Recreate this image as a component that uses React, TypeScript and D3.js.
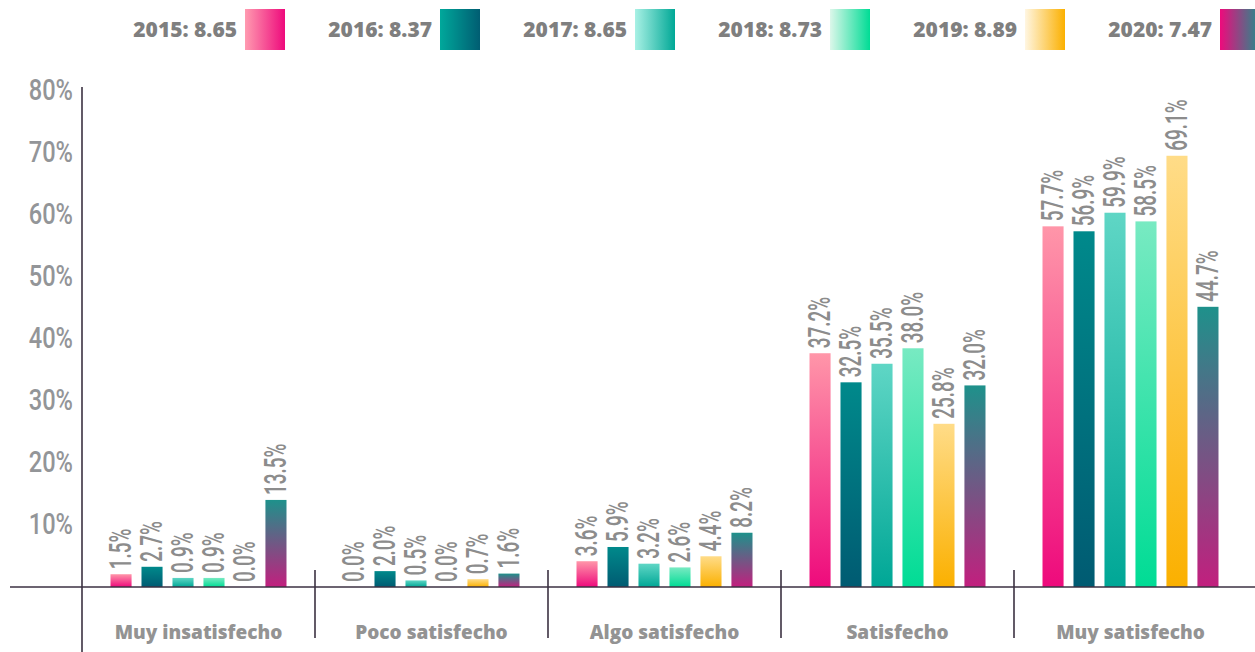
import React from "react";
import * as d3 from "d3";

const categories = ["Muy insatisfecho", "Poco satisfecho", "Algo satisfecho", "Satisfecho", "Muy satisfecho"];
const years = ["2015", "2016", "2017", "2018", "2019", "2020"];
const scores = ["8.65", "8.37", "8.65", "8.73", "8.89", "7.47"];

const values2015 = [1.5, 0.0, 3.6, 37.2, 57.7];
const values2016 = [2.7, 2.0, 5.9, 32.5, 56.9];
const values2017 = [0.9, 0.5, 3.2, 35.5, 59.9];
const values2018 = [0.9, 0.0, 2.6, 38.0, 58.5];
const values2019 = [0.0, 0.7, 4.4, 25.8, 69.1];
const values2020 = [13.5, 1.6, 8.2, 32.0, 44.7];
const series = [values2015, values2016, values2017, values2018, values2019, values2020];

const yTicks = [10, 20, 30, 40, 50, 60, 70, 80];

const barTop = ["#ff96a9", "#00898b", "#5fd6c5", "#78eac2", "#ffdc88", "#1e918b"];
const barBottom = ["#ee0a7c", "#005b72", "#00a796", "#00dc95", "#fbb000", "#c21f7e"];
const legendLeft = ["#ff9bb0", "#00a89b", "#a9f1e5", "#dcf7ea", "#fff6e2", "#ee0a7c"];
const legendRight = ["#ee0a7c", "#005d72", "#00a896", "#00dc95", "#fbb000", "#1f8f8c"];

const W = 1255;
const H = 652;
const axisX = 82;
const baseY = 587;

export default function App() {
  const x0 = d3.scaleBand<string>().domain(categories).range([axisX, 1247]).padding(0);
  const x1 = d3
    .scaleBand<string>()
    .domain(years)
    .range([0, x0.bandwidth()])
    .paddingInner(0.32)
    .paddingOuter(0.92);
  const y = d3.scaleLinear().domain([0, 80]).range([583.5, 583.5 - 80 * 6.19]);

  const legendX = d3.scalePoint<string>().domain(years).range([245, 1220]);

  return (
    <svg
      width={W}
      height={H}
      style={{ position: "absolute", left: 0, top: 0, display: "block", background: "#fff" }}
    >
      <defs>
        {years.map((yr, i) => (
          <linearGradient key={"b" + yr} id={"bar" + yr} x1="0" y1="0" x2="0" y2="1">
            <stop offset="0%" stopColor={barTop[i]} />
            <stop offset="100%" stopColor={barBottom[i]} />
          </linearGradient>
        ))}
        {years.map((yr, i) => (
          <linearGradient key={"l" + yr} id={"leg" + yr} x1="0" y1="0" x2="1" y2="0">
            <stop offset="0%" stopColor={legendLeft[i]} />
            <stop offset="100%" stopColor={legendRight[i]} />
          </linearGradient>
        ))}
      </defs>

      {/* legend */}
      {years.map((yr, i) => {
        const lx = legendX(yr) as number;
        return (
          <g key={"legend" + yr}>
            <text
              x={lx - 8}
              y={37}
              textAnchor="end"
              fontFamily="'Open Sans', sans-serif"
              fontWeight={800}
              fontSize={21}
              fill="#7f7f7f"
            >
              {`${yr}: ${scores[i]}`}
            </text>
            <rect x={lx} y={9} width={40} height={41} fill={`url(#leg${yr})`} />
          </g>
        );
      })}

      {/* y labels */}
      {yTicks.map((t) => (
        <text
          key={"yt" + t}
          transform={`translate(73, ${y(t) + 12}) scale(0.8,1)`}
          textAnchor="end"
          fontFamily="Roboto, sans-serif"
          fontWeight={500}
          fontSize={29.5}
          fill="#939598"
        >
          {`${t}%`}
        </text>
      ))}

      {/* bars */}
      {categories.map((cat, ci) => (
        <g key={"cat" + cat} transform={`translate(${x0(cat)},0)`}>
          {years.map((yr, si) => {
            const v = series[si][ci];
            const bx = x1(yr) as number;
            const top = y(v);
            const h = v > 0 ? baseY - top : 0;
            const cx = bx + x1.bandwidth() / 2;
            return (
              <g key={"bar" + yr}>
                {h > 0 && (
                  <rect x={bx} y={top} width={x1.bandwidth()} height={h} fill={`url(#bar${yr})`} />
                )}
                <text
                  transform={`translate(${cx + 10}, ${(v > 0 ? top : baseY) - 5}) rotate(-90) scale(0.61,1)`}
                  fontFamily="Roboto, sans-serif"
                  fontWeight={500}
                  fontSize={31}
                  fill="#8c8c8c"
                >
                  {`${v.toFixed(1)}%`}
                </text>
              </g>
            );
          })}
        </g>
      ))}

      {/* axes */}
      <line x1={10} x2={W} y1={baseY} y2={baseY} stroke="#3b3142" strokeWidth={1.6} />
      <line x1={axisX} x2={axisX} y1={87} y2={H} stroke="#3b3142" strokeWidth={1.6} />
      {categories.slice(1).map((cat) => (
        <line
          key={"sep" + cat}
          x1={x0(cat) as number}
          x2={x0(cat) as number}
          y1={570}
          y2={638}
          stroke="#3b3142"
          strokeWidth={1.6}
        />
      ))}

      {/* category labels */}
      {categories.map((cat) => (
        <text
          key={"cl" + cat}
          x={(x0(cat) as number) + x0.bandwidth() / 2}
          y={639}
          textAnchor="middle"
          fontFamily="'Open Sans', sans-serif"
          fontWeight={800}
          fontSize={19}
          fill="#939393"
        >
          {cat}
        </text>
      ))}
    </svg>
  );
}
